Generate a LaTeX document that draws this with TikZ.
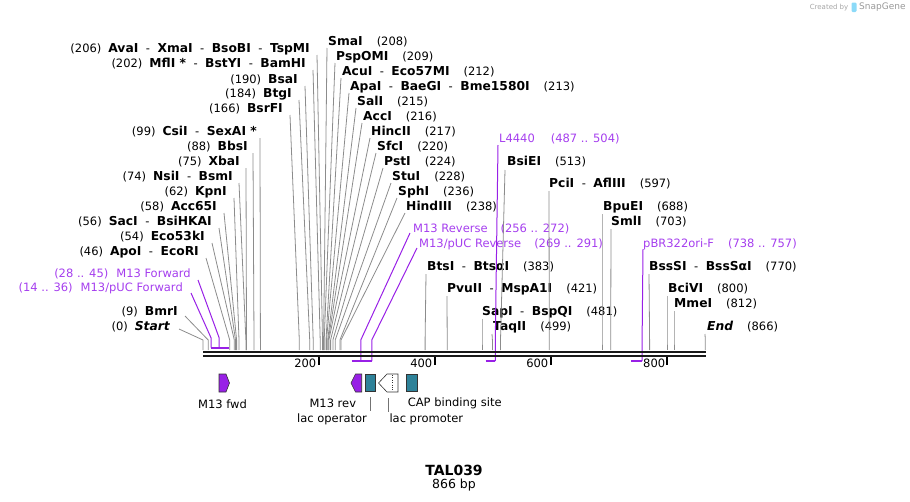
\documentclass[tikz,border=0pt]{standalone}
\usepackage{fontspec}
\setmainfont{DejaVu Sans}
\usepackage{xcolor}
\definecolor{primer}{RGB}{152,32,230}
\definecolor{primtext}{RGB}{165,62,238}
\definecolor{opteal}{RGB}{46,130,153}
\newcommand{\nm}[1]{{\fontsize{12.3}{13}\selectfont\bfseries #1}}
\newcommand{\dsh}{\hspace{7.5pt}-\hspace{7.5pt}}

\begin{document}
\begin{tikzpicture}[x=1pt,y=-1pt,
	font=\fontsize{11.5}{13}\selectfont,
	lsite/.style={anchor=east,inner sep=0pt},
	rsite/.style={anchor=west,inner sep=0pt},
	cut/.style={black!45,line width=0.8pt},
	prim/.style={primer,line width=1pt},
	primbar/.style={primer,line width=2pt},
	feat/.style={draw=black!80,line width=0.6pt},
	box/.style={feat,fill=opteal,minimum width=10.5pt,minimum height=17pt,inner sep=0pt},
	leader/.style={black!55,line width=0.6pt}]
	\useasboundingbox (0,0) rectangle (910,501);

	\coordinate (k0) at (203,340);
	\coordinate (k9) at (208.2,340);
	\coordinate (k46) at (229.7,340);
	\coordinate (k54) at (234.3,340);
	\coordinate (k56) at (235.5,340);
	\coordinate (k58) at (236.6,340);
	\coordinate (k62) at (239,340);
	\coordinate (k74) at (245.9,340);
	\coordinate (k75) at (246.5,340);
	\coordinate (k88) at (254,340);
	\coordinate (k99) at (260.4,340);
	\coordinate (k166) at (299.3,340);
	\coordinate (k184) at (309.7,340);
	\coordinate (k190) at (313.2,340);
	\coordinate (k202) at (320.2,340);
	\coordinate (k206) at (322.5,340);
	\coordinate (k208) at (323.6,340);
	\coordinate (k209) at (324.2,340);
	\coordinate (k212) at (326,340);
	\coordinate (k213) at (326.5,340);
	\coordinate (k215) at (327.7,340);
	\coordinate (k216) at (328.3,340);
	\coordinate (k217) at (328.9,340);
	\coordinate (k220) at (330.6,340);
	\coordinate (k224) at (332.9,340);
	\coordinate (k228) at (335.2,340);
	\coordinate (k236) at (339.9,340);
	\coordinate (k238) at (341,340);
	\coordinate (k383) at (425.1,340);
	\coordinate (k421) at (447.2,340);
	\coordinate (k481) at (482,340);
	\coordinate (k499) at (492.4,340);
	\coordinate (k513) at (500.5,340);
	\coordinate (k597) at (549.3,340);
	\coordinate (k688) at (602,340);
	\coordinate (k703) at (610.7,340);
	\coordinate (k770) at (649.6,340);
	\coordinate (k800) at (667,340);
	\coordinate (k812) at (674,340);
	\coordinate (k866) at (705.3,340);
	\coordinate (p14) at (211.1,338);
	\coordinate (p28) at (219.2,338);
	\coordinate (p272) at (360.8,340);
	\coordinate (p291) at (371.8,340);
	\coordinate (p504) at (495.3,340);
	\coordinate (p757) at (642.1,340);

	\node[lsite] (AvaI) at (310,49) {(206)\hspace{7pt}\nm{AvaI}\dsh\nm{XmaI}\dsh\nm{BsoBI}\dsh\nm{TspMI}};
	\node[lsite] (MflI) at (306,64) {(202)\hspace{7pt}\nm{MflI *}\dsh\nm{BstYI}\dsh\nm{BamHI}};
	\node[lsite] (BsaI) at (298,80) {(190)\hspace{7pt}\nm{BsaI}};
	\node[lsite] (BtgI) at (292,94) {(184)\hspace{7pt}\nm{BtgI}};
	\node[lsite] (BsrFI) at (283,109) {(166)\hspace{7pt}\nm{BsrFI}};
	\node[lsite] (CsiI) at (257,132) {(99)\hspace{7pt}\nm{CsiI}\dsh\nm{SexAI *}};
	\node[lsite] (BbsI) at (248,147) {(88)\hspace{7pt}\nm{BbsI}};
	\node[lsite] (XbaI) at (240,162) {(75)\hspace{7pt}\nm{XbaI}};
	\node[lsite] (NsiI) at (233,177) {(74)\hspace{7pt}\nm{NsiI}\dsh\nm{BsmI}};
	\node[lsite] (KpnI) at (227,192) {(62)\hspace{7pt}\nm{KpnI}};
	\node[lsite] (Acc65I) at (217,207) {(58)\hspace{7pt}\nm{Acc65I}};
	\node[lsite] (SacI) at (212,222) {(56)\hspace{7pt}\nm{SacI}\dsh\nm{BsiHKAI}};
	\node[lsite] (Eco53kI) at (205,237) {(54)\hspace{7pt}\nm{Eco53kI}};
	\node[lsite] (ApoI) at (199,252) {(46)\hspace{7pt}\nm{ApoI}\dsh\nm{EcoRI}};
	\node[lsite,text=primtext] (M13F) at (191,274) {(28 .. 45)\hspace{8pt}M13 Forward};
	\node[lsite,text=primtext] (M13pF) at (183,288) {(14 .. 36)\hspace{8pt}M13/pUC Forward};
	\node[lsite] (BmrI) at (178,312) {(9)\hspace{7pt}\nm{BmrI}};
	\node[lsite] (Start) at (170,327) {(0)\hspace{7pt}\nm{\itshape Start}};

	\node[rsite] (SmaI) at (328,42) {\nm{SmaI}\hspace{14pt}(208)};
	\node[rsite] (PspOMI) at (336,57) {\nm{PspOMI}\hspace{14pt}(209)};
	\node[rsite] (AcuI) at (342,72) {\nm{AcuI}\dsh\nm{Eco57MI}\hspace{14pt}(212)};
	\node[rsite] (ApaI) at (350,87) {\nm{ApaI}\dsh\nm{BaeGI}\dsh\nm{Bme1580I}\hspace{14pt}(213)};
	\node[rsite] (SalI) at (357,102) {\nm{SalI}\hspace{14pt}(215)};
	\node[rsite] (AccI) at (363,117) {\nm{AccI}\hspace{14pt}(216)};
	\node[rsite] (HincII) at (371,132) {\nm{HincII}\hspace{14pt}(217)};
	\node[rsite] (SfcI) at (377,147) {\nm{SfcI}\hspace{14pt}(220)};
	\node[rsite] (PstI) at (384,162) {\nm{PstI}\hspace{14pt}(224)};
	\node[rsite] (StuI) at (392,177) {\nm{StuI}\hspace{14pt}(228)};
	\node[rsite] (SphI) at (398,192) {\nm{SphI}\hspace{14pt}(236)};
	\node[rsite] (HindIII) at (406,207) {\nm{HindIII}\hspace{14pt}(238)};
	\node[rsite,text=primtext] (M13R) at (413,229) {M13 Reverse\hspace{13pt}(256 .. 272)};
	\node[rsite,text=primtext] (M13pR) at (419,244) {M13/pUC Reverse\hspace{13pt}(269 .. 291)};
	\node[rsite] (BtsI) at (427,267) {\nm{BtsI}\dsh\nm{BtsαI}\hspace{14pt}(383)};
	\node[rsite] (PvuII) at (447,289) {\nm{PvuII}\dsh\nm{MspA1I}\hspace{14pt}(421)};
	\node[rsite] (SapI) at (482,312) {\nm{SapI}\dsh\nm{BspQI}\hspace{14pt}(481)};
	\node[rsite] (TaqII) at (493,327) {\nm{TaqII}\hspace{14pt}(499)};
	\node[rsite,text=primtext] (L4440) at (499,139) {L4440\hspace{16pt}(487 .. 504)};
	\node[rsite] (BsiEI) at (507,162) {\nm{BsiEI}\hspace{14pt}(513)};
	\node[rsite] (PciI) at (549,184) {\nm{PciI}\dsh\nm{AflIII}\hspace{14pt}(597)};
	\node[rsite] (BpuEI) at (603,207) {\nm{BpuEI}\hspace{14pt}(688)};
	\node[rsite] (SmlI) at (611,222) {\nm{SmlI}\hspace{14pt}(703)};
	\node[rsite,text=primtext] (oriF) at (643,244) {pBR322ori-F\hspace{14pt}(738 .. 757)};
	\node[rsite] (BssSI) at (649,267) {\nm{BssSI}\dsh\nm{BssSαI}\hspace{14pt}(770)};
	\node[rsite] (BciVI) at (668,289) {\nm{BciVI}\hspace{14pt}(800)};
	\node[rsite] (MmeI) at (674,304) {\nm{MmeI}\hspace{14pt}(812)};
	\node[rsite] (End) at (707,327) {\nm{\itshape End}\hspace{14pt}(866)};

	\draw[cut] ([shift={(7,6)}]AvaI.east) -- (k206) -- ++(0,10);
	\draw[cut] ([shift={(7,6)}]MflI.east) -- (k202) -- ++(0,10);
	\draw[cut] ([shift={(7,6)}]BsaI.east) -- (k190) -- ++(0,10);
	\draw[cut] ([shift={(7,6)}]BtgI.east) -- (k184) -- ++(0,10);
	\draw[cut] ([shift={(7,6)}]BsrFI.east) -- (k166) -- ++(0,10);
	\draw[cut] ([shift={(3,6)}]CsiI.east) -- (k99) -- ++(0,10);
	\draw[cut] ([shift={(5,6)}]BbsI.east) -- (k88) -- ++(0,10);
	\draw[cut] ([shift={(6,6)}]XbaI.east) -- (k75) -- ++(0,10);
	\draw[cut] ([shift={(6,6)}]NsiI.east) -- (k74) -- ++(0,10);
	\draw[cut] ([shift={(7,6)}]KpnI.east) -- (k62) -- ++(0,10);
	\draw[cut] ([shift={(7,6)}]Acc65I.east) -- (k58) -- ++(0,10);
	\draw[cut] ([shift={(7,6)}]SacI.east) -- (k56) -- ++(0,10);
	\draw[cut] ([shift={(7,6)}]Eco53kI.east) -- (k54) -- ++(0,10);
	\draw[cut] ([shift={(7,6)}]ApoI.east) -- (k46) -- ++(0,10);
	\draw[cut] ([shift={(7,4)}]BmrI.east) -- (k9) -- ++(0,10);
	\draw[cut] ([shift={(9,2)}]Start.east) -- (k0) -- ++(0,10);

	\draw[cut] ([shift={(-1,6)}]SmaI.west) -- (k208) -- ++(0,10);
	\draw[cut] ([shift={(-1,6)}]PspOMI.west) -- (k209) -- ++(0,10);
	\draw[cut] ([shift={(-1,6)}]AcuI.west) -- (k212) -- ++(0,10);
	\draw[cut] ([shift={(-1,6)}]ApaI.west) -- (k213) -- ++(0,10);
	\draw[cut] ([shift={(-1,6)}]SalI.west) -- (k215) -- ++(0,10);
	\draw[cut] ([shift={(-1,6)}]AccI.west) -- (k216) -- ++(0,10);
	\draw[cut] ([shift={(-1,6)}]HincII.west) -- (k217) -- ++(0,10);
	\draw[cut] ([shift={(-1,6)}]SfcI.west) -- (k220) -- ++(0,10);
	\draw[cut] ([shift={(-1,6)}]PstI.west) -- (k224) -- ++(0,10);
	\draw[cut] ([shift={(-1,6)}]StuI.west) -- (k228) -- ++(0,10);
	\draw[cut] ([shift={(-1,6)}]SphI.west) -- (k236) -- ++(0,10);
	\draw[cut] ([shift={(-1,6)}]HindIII.west) -- (k238) -- ++(0,10);
	\draw[cut] ([shift={(-1,7)}]BtsI.west) -- (k383) -- ++(0,10);
	\draw[cut] ([shift={(0,7)}]PvuII.west) -- (k421) -- ++(0,10);
	\draw[cut] ([shift={(0,7)}]SapI.west) -- (k481) -- ++(0,10);
	\draw[cut] ([shift={(-1,7)}]TaqII.west) -- (k499) -- ++(0,10);
	\draw[cut] ([shift={(-2,8)}]BsiEI.west) -- (k513) -- ++(0,10);
	\draw[cut] ([shift={(0,7)}]PciI.west) -- (k597) -- ++(0,10);
	\draw[cut] ([shift={(-1,7)}]BpuEI.west) -- (k688) -- ++(0,10);
	\draw[cut] ([shift={(0,7)}]SmlI.west) -- (k703) -- ++(0,10);
	\draw[cut] ([shift={(0,7)}]BssSI.west) -- (k770) -- ++(0,10);
	\draw[cut] ([shift={(-1,7)}]BciVI.west) -- (k800) -- ++(0,10);
	\draw[cut] ([shift={(0,7)}]MmeI.west) -- (k812) -- ++(0,10);
	\draw[cut] ([shift={(-2,7)}]End.west) -- (k866) -- ++(0,10);

	\draw[prim] ([shift={(7,6)}]M13F.east) -- (p28) -- ++(0,9.5);
	\draw[prim] ([shift={(8,5)}]M13pF.east) -- (p14) -- ++(0,9.5);
	\draw[primbar] (211.1,347.5) -- (229.1,347.5);
	\draw[prim] ([shift={(-3,4)}]M13R.west) -- (p272) -- ++(0,21);
	\draw[prim] ([shift={(-2,4)}]M13pR.west) -- (p291) -- ++(0,21);
	\draw[primbar] (351.5,361) -- (371.8,361);
	\draw[prim] ([shift={(-1,6)}]L4440.west) -- (p504) -- ++(0,21);
	\draw[primbar] (485.5,361) -- (495.3,361);
	\draw[prim] ([shift={(0,5)}]oriF.west) -- (p757) -- ++(0,21);
	\draw[primbar] (631,361) -- (642.1,361);

	\draw[black!90,line width=2.6pt] (203,352) -- (706,352);
	\draw[black!90,line width=2.2pt] (203,356.2) -- (706,356.2);
	\draw[line width=1.5pt] (319,357) -- (319,365);
	\draw[line width=1.5pt] (435,357) -- (435,365);
	\draw[line width=1.5pt] (551,357) -- (551,365);
	\draw[line width=1.5pt] (667,357) -- (667,365);
	\node[anchor=base east,inner sep=0pt] (t200) at (316.5,367.5) {200};
	\node[anchor=base east,inner sep=0pt] (t400) at (432.5,367.5) {400};
	\node[anchor=base east,inner sep=0pt] (t600) at (548.5,367.5) {600};
	\node[anchor=base west,inner sep=0pt] (t800) at (643,367.5) {800};

	\draw[feat,fill=primer] (219,374) -- (226,374) -- (229.5,383) -- (226,392) -- (219,392) -- cycle;
	\draw[feat,fill=primer] (361.7,374) -- (355.5,374) -- (351,383) -- (355.5,392) -- (361.7,392) -- cycle;
	\node[box] (lacO) at (370.4,382.5) {};
	\draw[feat,fill=white] (398,374) -- (387,374) -- (378.5,383) -- (387,392) -- (398,392) -- cycle;
	\draw[black!80,dotted] (392,375) -- (392,391);
	\coordinate (lacP) at (388.7,392);
	\node[box] (CAP) at (411.7,382.5) {};

	\node (M13fwd) at (222.5,404) {M13 fwd};
	\node (M13rev) at (332.8,403.5) {M13 rev};
	\node (lacOlbl) at (332,419) {lac operator};
	\node (lacPlbl) at (426.3,419) {lac promoter};
	\node (CAPlbl) at (454.7,403.5) {CAP binding site};
	\draw[leader] ([shift={(0,6)}]lacO.south) -- ++(0,14);
	\draw[leader] ([shift={(0,6)}]lacP) -- ++(0,14);

	\node[font=\fontsize{14}{16}\selectfont\bfseries] (title) at (454,470.5) {TAL039};
	\node[font=\fontsize{12.5}{14}\selectfont] (len) at (454,485.5) {866 bp};

	\node[anchor=east,inner sep=0pt,text=black!35,font=\fontsize{7}{8}\selectfont] (made) at (848.5,7.5) {Created by};
	\fill[cyan!45,rounded corners=1.2pt] (851.5,2.5) rectangle (856.5,12);
	\node[anchor=west,inner sep=0pt,text=black!40,font=\fontsize{9}{10}\selectfont] (sg) at (859,7.5) {SnapGene};
\end{tikzpicture}
\end{document}
